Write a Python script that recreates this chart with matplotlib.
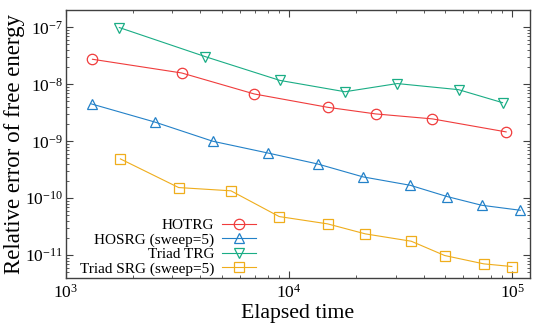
import matplotlib
matplotlib.use("Agg")
import matplotlib.pyplot as plt
from matplotlib.ticker import LogLocator, NullFormatter

plt.rcParams['font.family'] = ['Liberation Serif', 'DejaVu Serif']
plt.rcParams['mathtext.fontset'] = 'custom'
plt.rcParams['mathtext.rm'] = 'Liberation Serif'
plt.rcParams['mathtext.it'] = 'Liberation Serif:italic'

# data
hotrg_t = [1314, 3300, 6980, 14860, 24400, 43850, 93800]
hotrg_err = [2.75e-8, 1.58e-8, 6.76e-9, 3.95e-9, 3.02e-9, 2.47e-9, 1.46e-9]

hosrg_t = [1301, 2495, 4550, 8000, 13400, 21430, 34830, 51050, 72860, 108600]
hosrg_err = [4.52e-9, 2.18e-9, 1.0e-9, 6.24e-10, 4.0e-10, 2.37e-10, 1.69e-10,
             1.07e-10, 7.53e-11, 6.15e-11]

ttrg_t = [1734, 4217, 9086, 17783, 30500, 57400, 90400]
ttrg_err = [9.9e-8, 3.05e-8, 1.17e-8, 7.4e-9, 1.03e-8, 8.05e-9, 4.76e-9]

tsrg_t = [1753, 3197, 5485, 9020, 14860, 21930, 35240, 49780, 74470, 99500]
tsrg_err = [4.9e-10, 1.54e-10, 1.35e-10, 4.77e-11, 3.55e-11, 2.37e-11, 1.76e-11,
            9.87e-12, 7.05e-12, 6.33e-12]

x_ticks = [1e3, 1e4, 1e5]
y_ticks = [1e-11, 1e-10, 1e-9, 1e-8, 1e-7]

fig = plt.figure(figsize=(5.45, 3.27), dpi=100)
ax = fig.add_axes([66 / 545, 1 - 278 / 327, 464 / 545, 268 / 327])

kw = dict(lw=0.8, mfc='none', mew=0.9, ms=7.5)
ax.plot(hotrg_t, hotrg_err, marker='o', color='#f03c3c', label='HOTRG', **kw)
ax.plot(hosrg_t, hosrg_err, marker='^', color='#2381c8', label='HOSRG (sweep=5)', **kw)
ax.plot(ttrg_t, ttrg_err, marker='v', color='#1aad85', label='Triad TRG', **kw)
ax.plot(tsrg_t, tsrg_err, marker='s', color='#efad1c', label='Triad SRG (sweep=5)', **kw)

ax.set_xscale('log')
ax.set_yscale('log')
ax.set_xticks(x_ticks)
ax.set_yticks(y_ticks)
ax.set_xlim(1e3, 1.2e5)
ax.set_ylim(10 ** -11.40, 10 ** -6.696)

ax.xaxis.set_minor_locator(LogLocator(subs=range(2, 10)))
ax.yaxis.set_minor_locator(LogLocator(subs=range(2, 10)))
ax.xaxis.set_minor_formatter(NullFormatter())
ax.yaxis.set_minor_formatter(NullFormatter())
ax.tick_params(which='both', direction='in', top=True, right=True, labelsize=12.5,
               color='#404040')
ax.tick_params(which='major', length=5, width=0.8)
ax.tick_params(which='minor', length=2.5, width=0.6)
ax.tick_params(axis='x', pad=4)
ax.tick_params(axis='y', pad=2)
for s in ax.spines.values():
    s.set_color('#404040')
    s.set_linewidth(1.0)

ax.set_xlabel('Elapsed time', fontsize=15.7, labelpad=2)
ax.set_ylabel('Relative error of free energy', fontsize=16.5, labelpad=0)

ax.legend(loc='lower right', bbox_to_anchor=(0.415, -0.003), frameon=False,
          markerfirst=False, fontsize=11, handlelength=2.2, labelspacing=0.05,
          handletextpad=0.5, borderpad=0.2, borderaxespad=0)

fig.savefig('out.png', dpi=100)
